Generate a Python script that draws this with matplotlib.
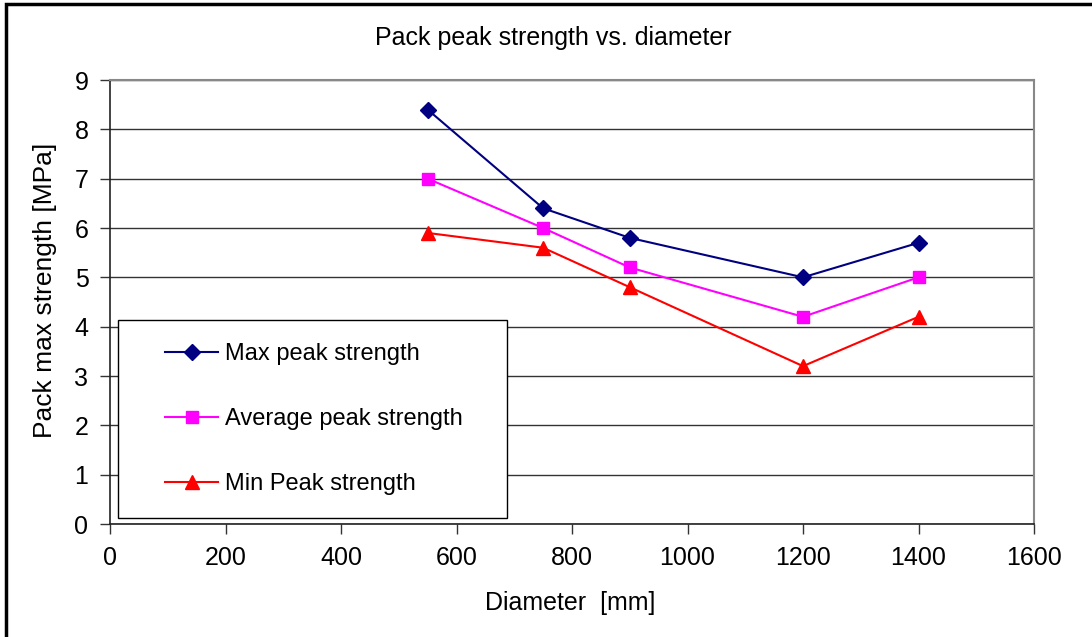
import matplotlib
matplotlib.use("Agg")
import matplotlib.pyplot as plt
from matplotlib.patches import Rectangle

plt.rcParams['font.family'] = ['Liberation Sans', 'DejaVu Sans']

diameter = [550, 750, 900, 1200, 1400]
max_peak = [8.4, 6.4, 5.8, 5.0, 5.7]
avg_peak = [7.0, 6.0, 5.2, 4.2, 5.0]
min_peak = [5.9, 5.6, 4.8, 3.2, 4.2]

x_ticks = [0, 200, 400, 600, 800, 1000, 1200, 1400, 1600]
y_ticks = [0, 1, 2, 3, 4, 5, 6, 7, 8, 9]

W, H = 1092, 637
fig = plt.figure(figsize=(W / 100, H / 100), dpi=100)
ax = fig.add_axes([110 / W, 1 - 524 / H, (1034 - 110) / W, (524 - 80) / H])

ax.plot(diameter, max_peak, color='#000080', marker='D', markersize=8,
        linewidth=1.5, label='Max peak strength')
ax.plot(diameter, avg_peak, color='#FF00FF', marker='s', markersize=8.5,
        linewidth=1.5, label='Average peak strength')
ax.plot(diameter, min_peak, color='#FF0000', marker='^', markersize=10,
        linewidth=1.5, label='Min Peak strength')

ax.set_xlim(0, 1600)
ax.set_ylim(0, 9)
ax.set_xticks(x_ticks)
ax.set_yticks(y_ticks)
ax.tick_params(labelsize=18, length=7, width=1, color='#333333', pad=8.5)
ax.yaxis.grid(True, color='#333333', linewidth=1)
ax.set_axisbelow(True)

for side in ['left', 'bottom']:
    ax.spines[side].set_color('#222222')
    ax.spines[side].set_linewidth(1.2)
for side in ['right', 'top']:
    ax.spines[side].set_color('#888888')
    ax.spines[side].set_linewidth(1.5)

ax.set_xlabel('Diameter  [mm]', fontsize=18, va='center')
ax.xaxis.set_label_coords((570.5 - 110) / 924, (524 - 603) / 444)
ax.set_ylabel('Pack max strength [MPa]', fontsize=19, va='center')
ax.yaxis.set_label_coords((45 - 110) / 924, (524 - 290) / 444)

fig.text((553) / W, 1 - 38 / H, 'Pack peak strength vs. diameter', ha='center',
         va='center', fontsize=18)

# legend box, drawn over the plot area
ax.add_patch(Rectangle((118 / W, 1 - 518 / H), (507 - 118) / W, (518 - 320) / H,
                       transform=fig.transFigure, fill=True, facecolor='white',
                       edgecolor='black', linewidth=1.0, zorder=5, clip_on=False))
leg = ax.legend(loc='upper left', bbox_to_anchor=(165 / W, 1 - 343 / H),
                bbox_transform=fig.transFigure, fontsize=17, frameon=False,
                labelspacing=1.83, borderpad=0, handlelength=2.25, handletextpad=0.3,
                borderaxespad=0)
leg.set_zorder(6)

# outer chart frame
fig.patches.append(Rectangle((6 / W, -0.1), 1.2, 1 - 4 / H + 0.1, transform=fig.transFigure,
                             fill=False, edgecolor='black', linewidth=2.5))

fig.savefig('out.png', dpi=100)
